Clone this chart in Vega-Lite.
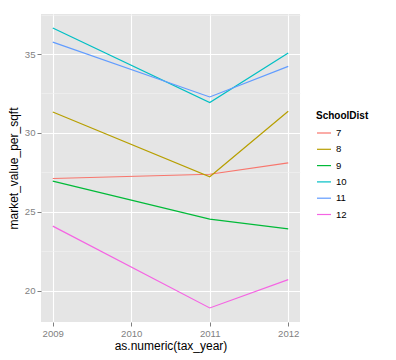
{
  "$schema": "https://vega.github.io/schema/vega-lite/v6.json",
  "width": 259,
  "height": 308,
  "autosize": {"type": "none"},
  "padding": {"left": 41, "top": 14, "right": 96, "bottom": 38},
  "background": "#FFFFFF",
  "config": {
    "font": "Liberation Sans",
    "view": {"fill": "#E5E5E5", "stroke": null},
    "axis": {
      "domain": false,
      "tickColor": "#7F7F7F",
      "tickSize": 4,
      "labelColor": "#7F7F7F",
      "labelFontSize": 9.6,
      "labelFont": "Liberation Sans",
      "titleFont": "Liberation Sans",
      "titleFontSize": 12,
      "titleFontWeight": "normal",
      "titleColor": "#000000"
    }
  },
  "data": {
    "values": [
      {"year": 2009, "value": 27.11, "SchoolDist": "7"},
      {"year": 2011, "value": 27.38, "SchoolDist": "7"},
      {"year": 2012, "value": 28.1, "SchoolDist": "7"},
      {"year": 2009, "value": 31.33, "SchoolDist": "8"},
      {"year": 2011, "value": 27.22, "SchoolDist": "8"},
      {"year": 2012, "value": 31.37, "SchoolDist": "8"},
      {"year": 2009, "value": 26.94, "SchoolDist": "9"},
      {"year": 2011, "value": 24.53, "SchoolDist": "9"},
      {"year": 2012, "value": 23.92, "SchoolDist": "9"},
      {"year": 2009, "value": 36.65, "SchoolDist": "10"},
      {"year": 2011, "value": 31.92, "SchoolDist": "10"},
      {"year": 2012, "value": 35.06, "SchoolDist": "10"},
      {"year": 2009, "value": 35.76, "SchoolDist": "11"},
      {"year": 2011, "value": 32.28, "SchoolDist": "11"},
      {"year": 2012, "value": 34.22, "SchoolDist": "11"},
      {"year": 2009, "value": 24.09, "SchoolDist": "12"},
      {"year": 2011, "value": 18.9, "SchoolDist": "12"},
      {"year": 2012, "value": 20.7, "SchoolDist": "12"}
    ]
  },
  "mark": {"type": "line", "strokeWidth": 1.2},
  "encoding": {
    "x": {
      "field": "year",
      "type": "quantitative",
      "title": "as.numeric(tax_year)",
      "scale": {"domain": [2008.85, 2012.15], "nice": false, "zero": false},
      "axis": {
        "values": [2009, 2009.5, 2010, 2010.5, 2011, 2011.5, 2012],
        "format": "d",
        "labelExpr": "datum.value % 1 ? '' : datum.label",
        "gridColor": {"condition": {"test": "datum.value % 1 !== 0", "value": "#F2F2F2"}, "value": "#FFFFFF"},
        "gridWidth": {"condition": {"test": "datum.value % 1 !== 0", "value": 0.6}, "value": 1.1},
        "tickOpacity": {"condition": {"test": "datum.value % 1 !== 0", "value": 0}, "value": 1},
        "labelPadding": 2,
        "titlePadding": 3,
        "labelFlush": false
      }
    },
    "y": {
      "field": "value",
      "type": "quantitative",
      "title": "market_value_per_sqft",
      "scale": {"domain": [18.01, 37.54], "nice": false, "zero": false},
      "axis": {
        "values": [20, 22.5, 25, 27.5, 30, 32.5, 35, 37.5],
        "labelExpr": "datum.value % 5 ? '' : datum.label",
        "gridColor": {"condition": {"test": "datum.value % 5 !== 0", "value": "#F2F2F2"}, "value": "#FFFFFF"},
        "gridWidth": {"condition": {"test": "datum.value % 5 !== 0", "value": 0.6}, "value": 1.1},
        "tickOpacity": {"condition": {"test": "datum.value % 5 !== 0", "value": 0}, "value": 1},
        "labelPadding": 2,
        "titlePadding": 4,
        "labelFlush": false
      }
    },
    "color": {
      "field": "SchoolDist",
      "type": "nominal",
      "scale": {
        "domain": ["7", "8", "9", "10", "11", "12"],
        "range": ["#F8766D", "#B79F00", "#00BA38", "#00BFC4", "#619CFF", "#F564E3"]
      },
      "legend": {
        "orient": "none",
        "legendX": 275,
        "legendY": 97,
        "padding": 0,
        "title": "SchoolDist",
        "titleFontSize": 10,
        "titleFontWeight": "bold",
        "titleColor": "#000000",
        "titlePadding": 4,
        "symbolType": "stroke",
        "symbolSize": 196,
        "symbolStrokeWidth": 1.2,
        "labelFontSize": 9.6,
        "labelColor": "#000000",
        "labelOffset": 4,
        "rowPadding": 3.3
      }
    }
  }
}
